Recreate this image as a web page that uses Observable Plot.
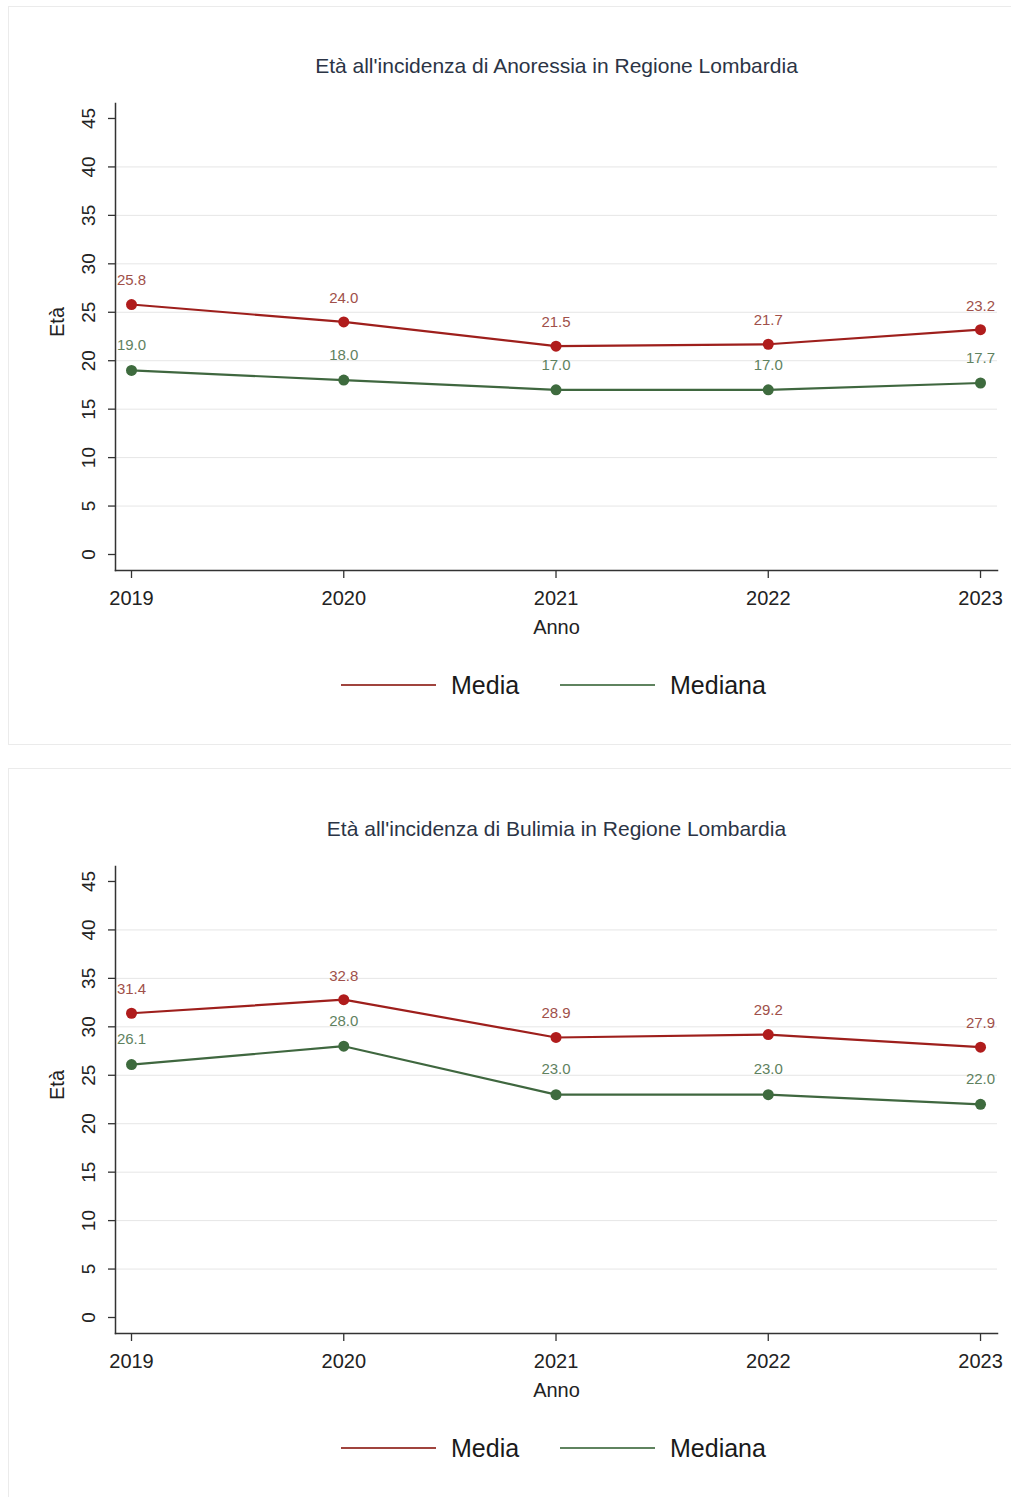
<!DOCTYPE html>
<html>
<head>
<meta charset="utf-8">
<script src="https://cdn.jsdelivr.net/npm/d3@7"></script>
<script src="https://cdn.jsdelivr.net/npm/@observablehq/plot@0.6"></script>
<style>
  html, body { margin: 0; padding: 0; background: #fff; }
  body { width: 1011px; height: 1497px; position: relative; overflow: hidden; font-family: "Liberation Sans", Arial, sans-serif; }
  .box { position: absolute; left: 8px; width: 1010px; border: 1px solid #ebebeb; background: #fff; }
  .plot { position: absolute; left: 0; }
  .legend { position: absolute; left: 0; width: 1011px; height: 40px; }
  .legend .sw { position: absolute; height: 0; border-top: 2.5px solid; }
  .legend .lab { position: absolute; font-size: 25px; color: #1a1a1a; line-height: 30px; }
</style>
</head>
<body>
<div class="box" style="top:6px;height:737px"></div>
<div class="box" style="top:768px;height:740px"></div>
<script>
const years = [2019, 2020, 2021, 2022, 2023];
const anoMedia = [25.8, 24.0, 21.5, 21.7, 23.2];
const anoMediana = [19.0, 18.0, 17.0, 17.0, 17.7];
const buliMedia = [31.4, 32.8, 28.9, 29.2, 27.9];
const buliMediana = [26.1, 28.0, 23.0, 23.0, 22.0];
const yTicks = [0, 5, 10, 15, 20, 25, 30, 35, 40, 45];
const gridTicks = [5, 10, 15, 20, 25, 30, 35, 40];
const titles = [
  "Età all'incidenza di Anoressia in Regione Lombardia",
  "Età all'incidenza di Bulimia in Regione Lombardia"
];
const seriesNames = ["Media", "Mediana"];

const RED_LINE = "#9e1f1c", RED_DOT = "#b01c1c", RED_LAB = "#a0504a";
const GRN_LINE = "#3f673f", GRN_DOT = "#3e6b3e", GRN_LAB = "#5f825f";

function makePanel(title, media, mediana, top) {
  const rows = (vals, s) => years.map((y, i) => ({year: y, value: vals[i], series: s}));
  const dMedia = rows(media, "Media");
  const dMediana = rows(mediana, "Mediana");
  const fmt = v => v.toFixed(1);
  const chart = Plot.plot({
    width: 1011,
    height: 660,
    marginTop: 103,
    marginBottom: 90,
    marginLeft: 115,
    marginRight: 14,
    style: {fontFamily: "'Liberation Sans', Arial, sans-serif", background: "transparent", color: "#222"},
    x: {domain: [2018.9246, 2023.080]},
    y: {domain: [-1.651, 46.546]},
    marks: [
      Plot.gridY(gridTicks, {stroke: "#e6e6e6", strokeOpacity: 1, strokeWidth: 1}),
      Plot.frame({anchor: "left", stroke: "#333", strokeWidth: 1.5}),
      Plot.frame({anchor: "bottom", stroke: "#333", strokeWidth: 1.5}),
      Plot.axisY({ticks: yTicks, tickSize: 7, tickRotate: -90, tickPadding: 14, fontSize: 19, stroke: "#333", strokeWidth: 1.3, fill: "#222", label: null}),
      Plot.axisX({ticks: years, tickFormat: d => String(d), tickSize: 8, tickPadding: 12, fontSize: 20, stroke: "#333", strokeWidth: 1.3, fill: "#222", label: null}),
      Plot.text([title], {frameAnchor: "top", dy: -45, text: d => d, fontSize: 21, fill: "#2b3445"}),
      Plot.text(["Età"], {frameAnchor: "left", dx: -58, rotate: -90, text: d => d, fontSize: 20, fill: "#222"}),
      Plot.text(["Anno"], {frameAnchor: "bottom", dy: 63, text: d => d, fontSize: 20, fill: "#222"}),
      Plot.line(dMediana, {x: "year", y: "value", stroke: GRN_LINE, strokeWidth: 2.2}),
      Plot.line(dMedia, {x: "year", y: "value", stroke: RED_LINE, strokeWidth: 2.2}),
      Plot.dot(dMediana, {x: "year", y: "value", r: 5.5, fill: GRN_DOT}),
      Plot.dot(dMedia, {x: "year", y: "value", r: 5.5, fill: RED_DOT}),
      Plot.text(dMediana, {x: "year", y: "value", text: d => fmt(d.value), dy: -25, fontSize: 15, fill: GRN_LAB}),
      Plot.text(dMedia, {x: "year", y: "value", text: d => fmt(d.value), dy: -24, fontSize: 15, fill: RED_LAB})
    ]
  });
  chart.classList.add("plot");
  chart.style.top = top + "px";
  document.body.appendChild(chart);

  const leg = document.createElement("div");
  leg.className = "legend";
  leg.style.top = (top + 665) + "px";
  leg.innerHTML =
    `<div class="sw" style="left:341px;width:95px;top:19px;border-color:#a0443e"></div>` +
    `<div class="lab" style="left:451px;top:5px">${seriesNames[0]}</div>` +
    `<div class="sw" style="left:560px;width:95px;top:19px;border-color:#5f835f"></div>` +
    `<div class="lab" style="left:670px;top:5px">${seriesNames[1]}</div>`;
  document.body.appendChild(leg);
}

makePanel(titles[0], anoMedia, anoMediana, 0);
makePanel(titles[1], buliMedia, buliMediana, 763);
</script>
</body>
</html>
